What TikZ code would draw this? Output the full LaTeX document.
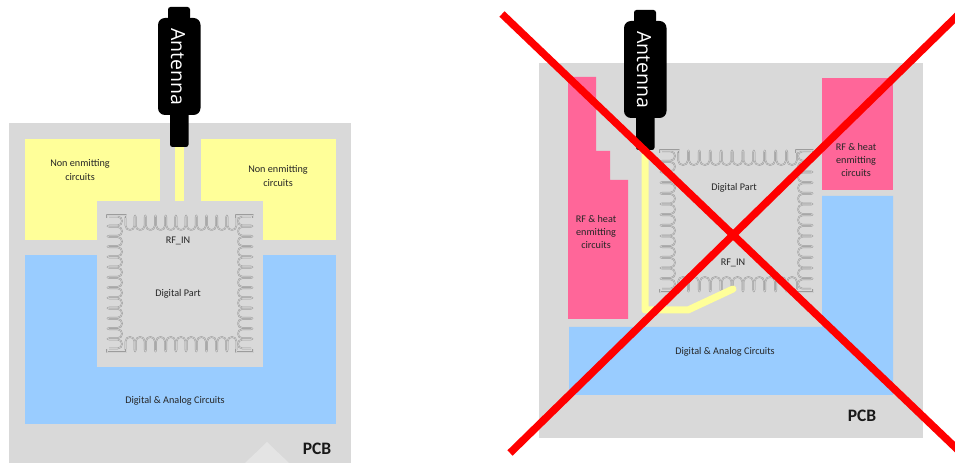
\documentclass[tikz,border=0pt]{standalone}
\usepackage{fontspec}
\setmainfont{Carlito}
\newfontfamily\antfont{Open Sans}
\definecolor{pcbgrey}{HTML}{D9D9D9}
\definecolor{ridge}{HTML}{E4E4E4}
\definecolor{padgrey}{HTML}{9C9C9C}
\definecolor{trace}{HTML}{FFFF99}
\definecolor{bluezone}{HTML}{99CCFF}
\definecolor{pinkzone}{HTML}{FF6699}
\tikzset{
  pcbfill/.style={fill=pcbgrey,draw=none},
  yellowzone/.style={fill=trace,draw=none},
  blueblock/.style={fill=bluezone,draw=none},
  pinkblock/.style={fill=pinkzone,draw=none},
  padline/.style={draw=padgrey,line width=.5bp,double=pcbgrey!85!padgrey,double distance=.6bp,line join=round},
  tracewire/.style={draw=trace,line width=7bp,line cap=round,line join=round},
  cross/.style={draw=red,line width=7.5bp},
  lbl/.style={font=\fontsize{10.2bp}{13.2bp}\selectfont,text=black!85,align=center,inner sep=0pt},
  pcblbl/.style={font=\fontsize{17.5bp}{20bp}\selectfont\bfseries,text=black!90,inner sep=0pt},
  anttext/.style={font=\fontsize{19.5bp}{24bp}\selectfont\antfont,text=white,rotate=-90,inner sep=0pt},
  antbody/.style={fill=black,draw=none}
}
% horizontal row of pads: first centre, last centre, edge y, direction, n
\newcommand{\padrowh}[5]{%
  \pgfmathsetmacro{\pitch}{((#2)-(#1))/(#5-1)}%
  \pgfmathsetmacro{\hw}{\pitch*.44}%
  \pgfmathtruncatemacro{\lastn}{#5-1}%
  \foreach \i in {0,...,\lastn}{%
    \pgfmathsetmacro{\c}{(#1)+\i*\pitch}%
    \draw[padline] ({\c-\hw},{#3+#4*2}) -- ({\c-\hw},{#3+#4*10.5})
      .. controls ({\c-\hw},{#3+#4*16.5}) and ({\c+\hw},{#3+#4*16.5}) .. ({\c+\hw},{#3+#4*10.5})
      -- ({\c+\hw},{#3+#4*2});
    \ifnum\i<\lastn
    \draw[padline] ({\c+\hw},{#3+#4*2})
      .. controls ({\c+\hw},{#3}) and ({\c+\pitch-\hw},{#3}) .. ({\c+\pitch-\hw},{#3+#4*2});
    \fi
  }}
% vertical column of pads: first centre, last centre, edge x, direction, n
\newcommand{\padrowv}[5]{%
  \pgfmathsetmacro{\pitch}{((#2)-(#1))/(#5-1)}%
  \pgfmathsetmacro{\hw}{\pitch*.44}%
  \pgfmathtruncatemacro{\lastn}{#5-1}%
  \foreach \i in {0,...,\lastn}{%
    \pgfmathsetmacro{\c}{(#1)+\i*\pitch}%
    \draw[padline] ({#3+#4*2},{\c-\hw}) -- ({#3+#4*10.5},{\c-\hw})
      .. controls ({#3+#4*16.5},{\c-\hw}) and ({#3+#4*16.5},{\c+\hw}) .. ({#3+#4*10.5},{\c+\hw})
      -- ({#3+#4*2},{\c+\hw});
    \ifnum\i<\lastn
    \draw[padline] ({#3+#4*2},{\c+\hw})
      .. controls ({#3},{\c+\hw}) and ({#3},{\c+\pitch-\hw}) .. ({#3+#4*2},{\c+\pitch-\hw});
    \fi
  }}
% module: x1 y1 x2 y2
\newcommand{\modulepads}[4]{%
  \padrowh{#1+23}{#3-21}{#2}{1}{11}%
  \padrowh{#1+23}{#3-21}{#4}{-1}{11}%
  \padrowv{#2+6}{#4-8}{#1}{1}{13}%
  \padrowv{#2+6}{#4-8}{#3}{-1}{13}%
  \draw[padline] (#1+19,#2+3) -- (#1+19,#2) -- (#1,#2) -- (#1,#2+3);
  \draw[padline] (#3-17,#2+3) -- (#3-17,#2) -- (#3,#2) -- (#3,#2+3);
  \draw[padline] (#1+19,#4-3) -- (#1+19,#4) -- (#1,#4) -- (#1,#4-3);
  \draw[padline] (#3-17,#4-3) -- (#3-17,#4) -- (#3,#4) -- (#3,#4-3);
}
% antenna at offset dx dy from the left one
\newcommand{\antenna}[2]{%
  \fill[antbody,rounded corners=2.5bp] (168+#1,7+#2) -- (190+#1,7+#2) -- (190+#1,20+#2) -- (168+#1,20+#2) -- cycle;
  \fill[antbody,rounded corners=7bp] (158+#1,18+#2) rectangle (200.5+#1,115+#2);
  \fill[antbody,rounded corners=2.5bp] (170+#1,105+#2) -- (188.5+#1,105+#2) -- (188.5+#1,147+#2) -- (170+#1,147+#2) -- cycle;
}
\begin{document}
\begin{tikzpicture}[x=1bp,y=-1bp]
\useasboundingbox (0,0) rectangle (955,463);
\fill[white] (0,0) rectangle (955,463);

% ---------- left board ----------
\fill[pcbfill] (9,123) rectangle (351,463);
\fill[ridge] (245,463) -- (267,442) -- (289,463) -- cycle;
\fill[yellowzone] (25,139) rectangle (160,240);
\fill[yellowzone] (201,139) rectangle (336,240);
\fill[yellowzone] (175,146) rectangle (184,202);
\fill[blueblock] (25,255) rectangle (336,424);
\fill[pcbfill] (97,201) rectangle (263,367);
\modulepads{107}{215}{253}{352}
\antenna{0}{0}
\node[anttext] (antL) at (178,67) {Antenna};
\node[lbl] (nonL) at (80,170) {Non enmitting\\circuits};
\node[lbl] (nonR) at (278,176) {Non enmitting\\circuits};
\node[lbl] (rfL) at (178,241) {RF\_IN};
\node[lbl] (digL) at (178,293.5) {Digital Part};
\node[lbl] (anaL) at (175,401) {Digital \& Analog Circuits};
\node[pcblbl] (pcbL) at (317,449) {PCB};

% ---------- right board ----------
\fill[pcbfill] (539,63) rectangle (923,438);
\fill[pinkblock] (568,77) -- (596,77) -- (596,151) -- (610,151) -- (610,180) -- (628,180) -- (628,319) -- (568,319) -- cycle;
\fill[pinkblock] (822,78) rectangle (893,190);
\fill[blueblock] (569,327) -- (822,327) -- (822,196) -- (893,196) -- (893,395) -- (569,395) -- cycle;
\modulepads{660}{150}{813}{292}
\coordinate (tA) at (645,150);
\coordinate (tB) at (645,310);
\coordinate (tC) at (688,310);
\coordinate (tD) at (733,289);
\draw[tracewire] (tA) -- (tB) -- (tC) -- (tD);
\antenna{466}{3}
\node[anttext] (antR) at (644,70) {Antenna};
\node[lbl] (rfheatL) at (596,232) {RF \& heat\\enmitting\\circuits};
\node[lbl] (rfheatR) at (856,160) {RF \& heat\\enmitting\\circuits};
\node[lbl] (digR) at (734,188) {Digital Part};
\node[lbl] (rfR) at (733,263) {RF\_IN};
\node[lbl] (anaR) at (725,352) {Digital \& Analog Circuits};
\node[pcblbl] (pcbR) at (862,416) {PCB};

% ---------- cross ----------
\coordinate (xa) at (502,14);
\coordinate (xb) at (958,450);
\coordinate (xc) at (510,453);
\coordinate (xd) at (958,15);
\draw[cross] (xa) -- (xb);
\draw[cross] (xc) -- (xd);
\end{tikzpicture}
\end{document}
